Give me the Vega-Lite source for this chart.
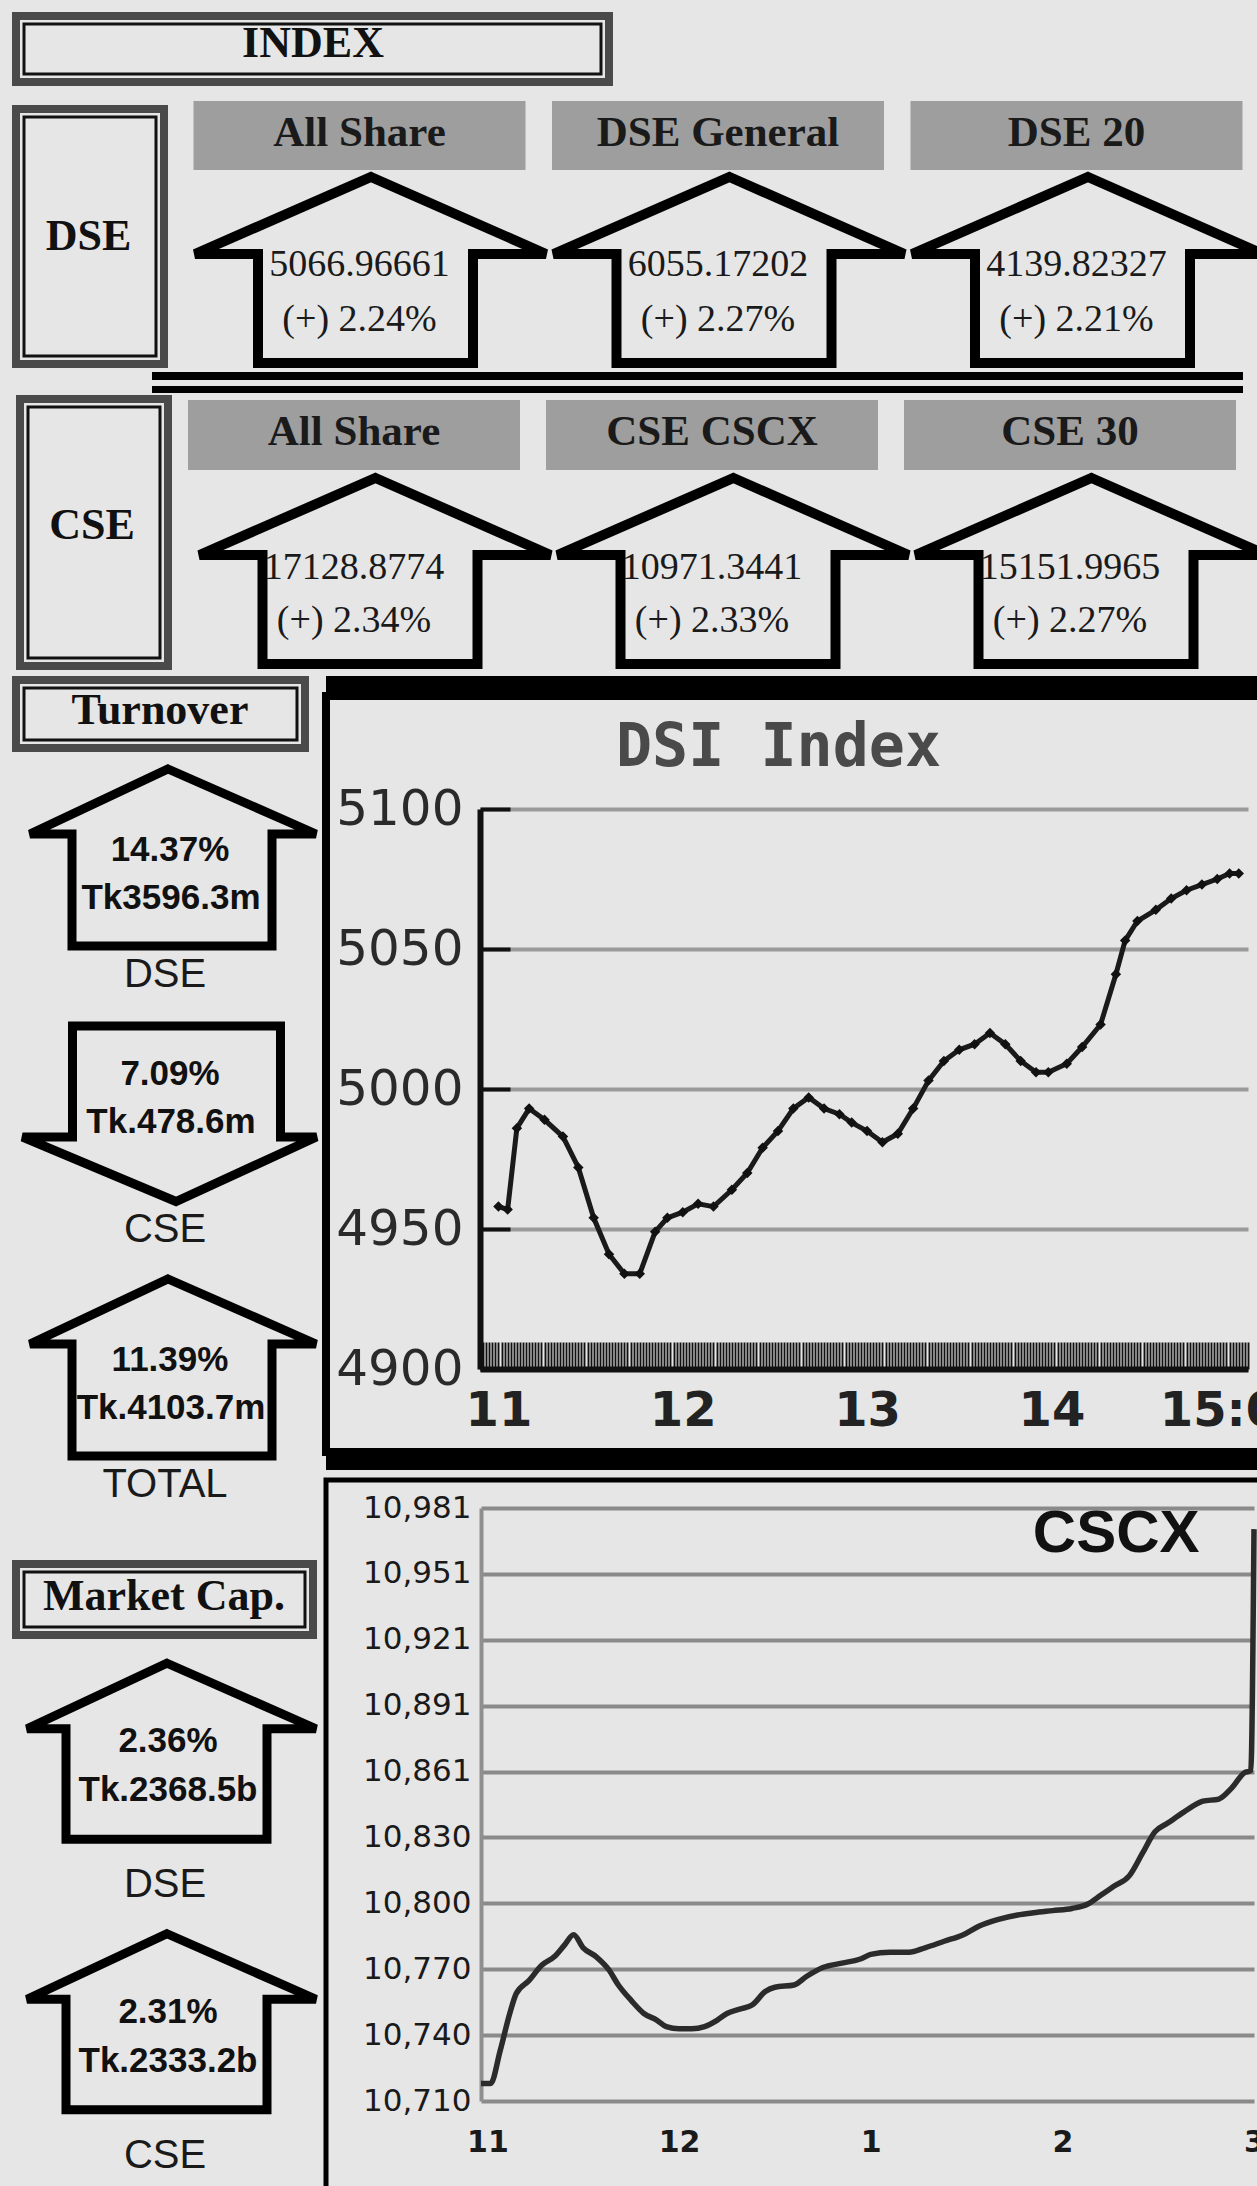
{
  "$schema": "https://vega.github.io/schema/vega-lite/v6.json",
  "background": "#e6e6e6",
  "padding": 0,
  "spacing": 0,
  "bounds": "flush",
  "config": {"view": {"stroke": null}},
  "datasets": {
    "tiles": [
      {"exchange": "DSE", "rank": 1, "name": "All Share", "value": "5066.96661", "change": "(+) 2.24%"},
      {"exchange": "DSE", "rank": 2, "name": "DSE General", "value": "6055.17202", "change": "(+) 2.27%"},
      {"exchange": "DSE", "rank": 3, "name": "DSE 20", "value": "4139.82327", "change": "(+) 2.21%"},
      {"exchange": "CSE", "rank": 1, "name": "All Share", "value": "17128.8774", "change": "(+) 2.34%"},
      {"exchange": "CSE", "rank": 2, "name": "CSE CSCX", "value": "10971.3441", "change": "(+) 2.33%"},
      {"exchange": "CSE", "rank": 3, "name": "CSE 30", "value": "15151.9965", "change": "(+) 2.27%"}
    ],
    "turnover": [
      {"market": "DSE", "pct": "14.37%", "amount": "Tk3596.3m", "dir": "up"},
      {"market": "CSE", "pct": "7.09%", "amount": "Tk.478.6m", "dir": "down"},
      {"market": "TOTAL", "pct": "11.39%", "amount": "Tk.4103.7m", "dir": "up"}
    ],
    "mcap": [
      {"market": "DSE", "pct": "2.36%", "amount": "Tk.2368.5b", "dir": "up"},
      {"market": "CSE", "pct": "2.31%", "amount": "Tk.2333.2b", "dir": "up"}
    ],
    "dsi": [
      {"time": "2014-01-01T11:00Z", "index": 4958}, {"time": "2014-01-01T11:03Z", "index": 4957},
      {"time": "2014-01-01T11:06Z", "index": 4986}, {"time": "2014-01-01T11:10Z", "index": 4993},
      {"time": "2014-01-01T11:15Z", "index": 4989}, {"time": "2014-01-01T11:21Z", "index": 4983},
      {"time": "2014-01-01T11:26Z", "index": 4972}, {"time": "2014-01-01T11:31Z", "index": 4954},
      {"time": "2014-01-01T11:36Z", "index": 4941}, {"time": "2014-01-01T11:41Z", "index": 4934},
      {"time": "2014-01-01T11:46Z", "index": 4934}, {"time": "2014-01-01T11:51Z", "index": 4949},
      {"time": "2014-01-01T11:55Z", "index": 4954}, {"time": "2014-01-01T12:00Z", "index": 4956},
      {"time": "2014-01-01T12:05Z", "index": 4959}, {"time": "2014-01-01T12:10Z", "index": 4958},
      {"time": "2014-01-01T12:16Z", "index": 4964}, {"time": "2014-01-01T12:21Z", "index": 4970},
      {"time": "2014-01-01T12:26Z", "index": 4979}, {"time": "2014-01-01T12:31Z", "index": 4985},
      {"time": "2014-01-01T12:36Z", "index": 4993}, {"time": "2014-01-01T12:41Z", "index": 4997},
      {"time": "2014-01-01T12:46Z", "index": 4993}, {"time": "2014-01-01T12:51Z", "index": 4991},
      {"time": "2014-01-01T12:55Z", "index": 4988}, {"time": "2014-01-01T13:00Z", "index": 4985},
      {"time": "2014-01-01T13:05Z", "index": 4981}, {"time": "2014-01-01T13:10Z", "index": 4984},
      {"time": "2014-01-01T13:15Z", "index": 4993}, {"time": "2014-01-01T13:20Z", "index": 5003},
      {"time": "2014-01-01T13:25Z", "index": 5010}, {"time": "2014-01-01T13:30Z", "index": 5014},
      {"time": "2014-01-01T13:35Z", "index": 5016}, {"time": "2014-01-01T13:40Z", "index": 5020},
      {"time": "2014-01-01T13:45Z", "index": 5016}, {"time": "2014-01-01T13:50Z", "index": 5010},
      {"time": "2014-01-01T13:55Z", "index": 5006}, {"time": "2014-01-01T13:59Z", "index": 5006},
      {"time": "2014-01-01T14:05Z", "index": 5009}, {"time": "2014-01-01T14:10Z", "index": 5015},
      {"time": "2014-01-01T14:16Z", "index": 5023}, {"time": "2014-01-01T14:21Z", "index": 5041},
      {"time": "2014-01-01T14:24Z", "index": 5053}, {"time": "2014-01-01T14:28Z", "index": 5060},
      {"time": "2014-01-01T14:34Z", "index": 5064}, {"time": "2014-01-01T14:39Z", "index": 5068},
      {"time": "2014-01-01T14:44Z", "index": 5071}, {"time": "2014-01-01T14:49Z", "index": 5073},
      {"time": "2014-01-01T14:54Z", "index": 5075}, {"time": "2014-01-01T14:58Z", "index": 5077},
      {"time": "2014-01-01T15:01Z", "index": 5077}
    ],
    "cscx": [
      {"time": "2014-01-01T10:58Z", "index": 10718}, {"time": "2014-01-01T11:01Z", "index": 10718},
      {"time": "2014-01-01T11:04Z", "index": 10733}, {"time": "2014-01-01T11:07Z", "index": 10750},
      {"time": "2014-01-01T11:09Z", "index": 10759}, {"time": "2014-01-01T11:13Z", "index": 10765},
      {"time": "2014-01-01T11:17Z", "index": 10772}, {"time": "2014-01-01T11:21Z", "index": 10776},
      {"time": "2014-01-01T11:24Z", "index": 10781}, {"time": "2014-01-01T11:27Z", "index": 10786},
      {"time": "2014-01-01T11:30Z", "index": 10780}, {"time": "2014-01-01T11:34Z", "index": 10776},
      {"time": "2014-01-01T11:38Z", "index": 10770}, {"time": "2014-01-01T11:41Z", "index": 10763},
      {"time": "2014-01-01T11:45Z", "index": 10756}, {"time": "2014-01-01T11:49Z", "index": 10750},
      {"time": "2014-01-01T11:53Z", "index": 10747}, {"time": "2014-01-01T11:56Z", "index": 10744},
      {"time": "2014-01-01T12:00Z", "index": 10743}, {"time": "2014-01-01T12:04Z", "index": 10743},
      {"time": "2014-01-01T12:08Z", "index": 10744}, {"time": "2014-01-01T12:12Z", "index": 10747},
      {"time": "2014-01-01T12:15Z", "index": 10750}, {"time": "2014-01-01T12:19Z", "index": 10752},
      {"time": "2014-01-01T12:23Z", "index": 10754}, {"time": "2014-01-01T12:27Z", "index": 10760},
      {"time": "2014-01-01T12:30Z", "index": 10762}, {"time": "2014-01-01T12:36Z", "index": 10763},
      {"time": "2014-01-01T12:40Z", "index": 10767}, {"time": "2014-01-01T12:45Z", "index": 10771},
      {"time": "2014-01-01T12:51Z", "index": 10773}, {"time": "2014-01-01T12:57Z", "index": 10775},
      {"time": "2014-01-01T13:00Z", "index": 10777}, {"time": "2014-01-01T13:06Z", "index": 10778},
      {"time": "2014-01-01T13:12Z", "index": 10778}, {"time": "2014-01-01T13:17Z", "index": 10780},
      {"time": "2014-01-01T13:23Z", "index": 10783}, {"time": "2014-01-01T13:29Z", "index": 10786},
      {"time": "2014-01-01T13:34Z", "index": 10790}, {"time": "2014-01-01T13:40Z", "index": 10793},
      {"time": "2014-01-01T13:46Z", "index": 10795}, {"time": "2014-01-01T13:51Z", "index": 10796},
      {"time": "2014-01-01T13:57Z", "index": 10797}, {"time": "2014-01-01T14:03Z", "index": 10798},
      {"time": "2014-01-01T14:08Z", "index": 10800}, {"time": "2014-01-01T14:12Z", "index": 10804},
      {"time": "2014-01-01T14:16Z", "index": 10808}, {"time": "2014-01-01T14:21Z", "index": 10813},
      {"time": "2014-01-01T14:25Z", "index": 10823}, {"time": "2014-01-01T14:29Z", "index": 10833},
      {"time": "2014-01-01T14:33Z", "index": 10837}, {"time": "2014-01-01T14:38Z", "index": 10842},
      {"time": "2014-01-01T14:44Z", "index": 10847}, {"time": "2014-01-01T14:49Z", "index": 10848},
      {"time": "2014-01-01T14:53Z", "index": 10853}, {"time": "2014-01-01T14:57Z", "index": 10860},
      {"time": "2014-01-01T14:59Z", "index": 10861}, {"time": "2014-01-01T15:00Z", "index": 10971.34}
    ]
  },
  "vconcat": [
    {
      "width": 610, "height": 86,
      "data": {"values": [{"section": "INDEX"}]},
      "layer": [
        {"mark": {"type": "point", "shape": "M-0.594,-0.074H0.592V0.058H-0.594Z", "size": 1000000, "filled": false, "color": "#4a4a4a", "strokeWidth": 8, "opacity": 1}},
        {"mark": {"type": "point", "shape": "M-0.578,-0.058H0.576V0.042H-0.578Z", "size": 1000000, "filled": false, "color": "#111111", "strokeWidth": 3, "opacity": 1}},
        {"mark": {"type": "text", "font": "Liberation Serif", "fontWeight": "bold", "fontSize": 44, "color": "#111111", "dy": -9}, "encoding": {"text": {"field": "section"}}}
      ]
    },
    {
      "width": 1257, "height": 276,
      "layer": [
        {
          "data": {"values": [{"exchange": "DSE"}]},
          "layer": [
            {"mark": {"type": "point", "shape": "M-1.241,-0.25H-0.945V0.26H-1.241Z", "size": 1000000, "filled": false, "color": "#4a4a4a", "strokeWidth": 8, "opacity": 1}},
            {"mark": {"type": "point", "shape": "M-1.225,-0.234H-0.961V0.244H-1.225Z", "size": 1000000, "filled": false, "color": "#111111", "strokeWidth": 3, "opacity": 1}},
            {"mark": {"type": "text", "font": "Liberation Serif", "fontWeight": "bold", "fontSize": 44, "color": "#111111", "dx": -548, "dy": 3}, "encoding": {"text": {"field": "exchange"}}}
          ]
        },
        {
          "data": {"name": "tiles"},
          "transform": [{"filter": "datum.exchange === 'DSE'"}],
          "encoding": {"x": {"field": "rank", "type": "ordinal", "scale": {"type": "point", "range": [351.5, 1068.5], "padding": 0}, "axis": null}},
          "layer": [
            {"mark": {"type": "point", "shape": "M-0.332,-0.266H0.332V-0.128H-0.332Z", "size": 1000000, "filled": true, "color": "#9e9e9e", "opacity": 1, "strokeWidth": 0}},
            {"mark": {"type": "text", "font": "Liberation Serif", "fontWeight": "bold", "fontSize": 43, "color": "#1a1a1a", "dy": -101}, "encoding": {"text": {"field": "name"}}},
            {"mark": {"type": "text", "font": "Liberation Serif", "fontSize": 38, "color": "#1a1a1a", "dy": 31}, "encoding": {"text": {"field": "value"}}},
            {"mark": {"type": "text", "font": "Liberation Serif", "fontSize": 38, "color": "#1a1a1a", "dy": 86}, "encoding": {"text": {"field": "change"}}},
            {"mark": {"type": "point", "shape": "M0.023,-0.114L0.373,0.04H0.227V0.258H-0.203V0.04H-0.329Z", "size": 1000000, "filled": false, "color": "#000000", "strokeWidth": 10, "strokeJoin": "miter", "opacity": 1}}
          ]
        }
      ]
    },
    {
      "width": 1257, "height": 24,
      "data": {"values": [{"part": "separator"}]},
      "mark": {"type": "point", "shape": "M-0.969,-0.024H1.213V-0.008H-0.969Z M-0.969,0.004H1.213V0.018H-0.969Z", "size": 1000000, "filled": true, "color": "#000000", "opacity": 1, "strokeWidth": 0}
    },
    {
      "width": 1257, "height": 280,
      "layer": [
        {
          "data": {"values": [{"exchange": "CSE"}]},
          "layer": [
            {"mark": {"type": "point", "shape": "M-1.233,-0.274H-0.937V0.26H-1.233Z", "size": 1000000, "filled": false, "color": "#4a4a4a", "strokeWidth": 8, "opacity": 1}},
            {"mark": {"type": "point", "shape": "M-1.217,-0.258H-0.953V0.244H-1.217Z", "size": 1000000, "filled": false, "color": "#111111", "strokeWidth": 3, "opacity": 1}},
            {"mark": {"type": "text", "font": "Liberation Serif", "fontWeight": "bold", "fontSize": 44, "color": "#111111", "dx": -544.5, "dy": -10}, "encoding": {"text": {"field": "exchange"}}}
          ]
        },
        {
          "data": {"name": "tiles"},
          "transform": [{"filter": "datum.exchange === 'CSE'"}],
          "encoding": {"x": {"field": "rank", "type": "ordinal", "scale": {"type": "point", "range": [346, 1062], "padding": 0}, "axis": null}},
          "layer": [
            {"mark": {"type": "point", "shape": "M-0.332,-0.272H0.332V-0.132H-0.332Z", "size": 1000000, "filled": true, "color": "#9e9e9e", "opacity": 1, "strokeWidth": 0}},
            {"mark": {"type": "text", "font": "Liberation Serif", "fontWeight": "bold", "fontSize": 43, "color": "#1a1a1a", "dy": -104}, "encoding": {"text": {"field": "name"}}},
            {"mark": {"type": "text", "font": "Liberation Serif", "fontSize": 38, "color": "#1a1a1a", "dy": 32}, "encoding": {"text": {"field": "value"}}},
            {"mark": {"type": "text", "font": "Liberation Serif", "fontSize": 38, "color": "#1a1a1a", "dy": 85}, "encoding": {"text": {"field": "change"}}},
            {"mark": {"type": "point", "shape": "M0.043,-0.116L0.393,0.038H0.247V0.256H-0.183V0.038H-0.309Z", "size": 1000000, "filled": false, "color": "#000000", "strokeWidth": 10, "strokeJoin": "miter", "opacity": 1}}
          ]
        }
      ]
    },
    {
      "spacing": 0, "bounds": "flush",
      "hconcat": [
        {
          "width": 318, "height": 1520,
          "resolve": {"scale": {"y": "independent", "shape": "independent"}},
          "layer": [
            {
              "data": {"values": [{"section": "Turnover"}]},
              "layer": [
                {"mark": {"type": "point", "shape": "M-0.302,-1.512H0.276V-1.376H-0.302Z", "size": 1000000, "filled": false, "color": "#4a4a4a", "strokeWidth": 8, "opacity": 1}},
                {"mark": {"type": "point", "shape": "M-0.286,-1.496H0.26V-1.392H-0.286Z", "size": 1000000, "filled": false, "color": "#111111", "strokeWidth": 3, "opacity": 1}},
                {"mark": {"type": "text", "font": "Liberation Serif", "fontWeight": "bold", "fontSize": 44, "color": "#111111", "dx": -7, "dy": -725}, "encoding": {"text": {"field": "section"}}}
              ]
            },
            {
              "data": {"values": [{"section": "Market Cap."}]},
              "layer": [
                {"mark": {"type": "point", "shape": "M-0.302,0.256H0.292V0.398H-0.302Z", "size": 1000000, "filled": false, "color": "#4a4a4a", "strokeWidth": 8, "opacity": 1}},
                {"mark": {"type": "point", "shape": "M-0.286,0.272H0.276V0.382H-0.286Z", "size": 1000000, "filled": false, "color": "#111111", "strokeWidth": 3, "opacity": 1}},
                {"mark": {"type": "text", "font": "Liberation Serif", "fontWeight": "bold", "fontSize": 44, "color": "#111111", "dx": -3, "dy": 161}, "encoding": {"text": {"field": "section"}}}
              ]
            },
            {
              "data": {"name": "turnover"},
              "encoding": {"y": {"field": "market", "type": "nominal", "scale": {"type": "point", "padding": 0, "domain": ["DSE", "CSE", "TOTAL"], "range": [212.5, 722.5]}, "axis": null}},
              "layer": [
                {"transform": [{"filter": "datum.dir === 'up'"}], "mark": {"type": "text", "font": "Liberation Sans", "fontWeight": "bold", "fontSize": 35, "color": "#111111", "dx": 3, "dy": -39}, "encoding": {"text": {"field": "pct"}}},
                {"transform": [{"filter": "datum.dir === 'up'"}], "mark": {"type": "text", "font": "Liberation Sans", "fontWeight": "bold", "fontSize": 35, "color": "#111111", "dx": 4, "dy": 9}, "encoding": {"text": {"field": "amount"}}},
                {"transform": [{"filter": "datum.dir === 'down'"}], "mark": {"type": "text", "font": "Liberation Sans", "fontWeight": "bold", "fontSize": 35, "color": "#111111", "dx": 3, "dy": -70}, "encoding": {"text": {"field": "pct"}}},
                {"transform": [{"filter": "datum.dir === 'down'"}], "mark": {"type": "text", "font": "Liberation Sans", "fontWeight": "bold", "fontSize": 35, "color": "#111111", "dx": 4, "dy": -22}, "encoding": {"text": {"field": "amount"}}},
                {"mark": {"type": "text", "font": "Liberation Sans", "fontSize": 40, "color": "#1a1a1a", "dx": -2, "dy": 86}, "encoding": {"text": {"field": "market"}}},
                {"mark": {"type": "point", "size": 1000000, "filled": false, "color": "#000000", "strokeWidth": 9, "strokeJoin": "miter", "opacity": 1},
                 "encoding": {"shape": {"field": "dir", "type": "nominal", "scale": {"domain": ["up", "down"], "range": ["M0.002,-0.239L0.298,-0.109H0.21V0.115H-0.19V-0.109H-0.274Z", "M-0.189,-0.235H0.227V-0.013H0.299L0.018,0.116L-0.289,-0.013H-0.189Z"]}, "legend": null}}}
              ]
            },
            {
              "data": {"name": "mcap"},
              "encoding": {"y": {"field": "market", "type": "nominal", "scale": {"type": "point", "padding": 0, "domain": ["DSE", "CSE"], "range": [1114.25, 1384.75]}, "axis": null}},
              "layer": [
                {"mark": {"type": "text", "font": "Liberation Sans", "fontWeight": "bold", "fontSize": 35, "color": "#111111", "dx": 1, "dy": -49}, "encoding": {"text": {"field": "pct"}}},
                {"mark": {"type": "text", "font": "Liberation Sans", "fontWeight": "bold", "fontSize": 35, "color": "#111111", "dx": 1, "dy": 0}, "encoding": {"text": {"field": "amount"}}},
                {"mark": {"type": "text", "font": "Liberation Sans", "fontSize": 40, "color": "#1a1a1a", "dx": -2, "dy": 95}, "encoding": {"text": {"field": "market"}}},
                {"mark": {"type": "point", "size": 1000000, "filled": false, "color": "#000000", "strokeWidth": 9, "strokeJoin": "miter", "opacity": 1},
                 "encoding": {"shape": {"field": "dir", "type": "nominal", "scale": {"domain": ["up", "down"], "range": ["M0,-0.254L0.298,-0.123H0.2V0.098H-0.202V-0.123H-0.28Z", "M-0.189,-0.235H0.227V-0.013H0.299L0.018,0.116L-0.289,-0.013H-0.189Z"]}, "legend": null}}}
              ]
            }
          ]
        },
        {
          "spacing": 0, "bounds": "flush",
          "vconcat": [
            {"width": 943, "height": 20, "view": {"fill": "#000000", "stroke": null}, "data": {"values": [{"part": "bar"}]}, "mark": {"type": "text"}, "encoding": {"text": {"value": ""}}},
            {
              "width": 943, "height": 756,
              "view": {"stroke": "#000000", "strokeWidth": 8},
              "layer": [
                {
                  "data": {"name": "dsi"},
                  "mark": {"type": "line", "color": "#1a1a1a", "strokeWidth": 5, "point": {"filled": true, "shape": "diamond", "size": 110, "color": "#111111", "opacity": 1}},
                  "encoding": {
                    "x": {
                      "field": "time", "type": "temporal",
                      "scale": {"type": "utc", "domain": [1388573640000, 1388588640000], "range": [154, 922], "nice": false},
                      "axis": {
                        "orient": "bottom", "offset": -83, "title": null,
                        "tickCount": 125,
                        "labelExpr": "utcminutes(datum.value) === 0 ? (utchours(datum.value) === 15 ? '15:00' : '' + utchours(datum.value)) : ''",
                        "labelFont": "DejaVu Sans", "labelFontWeight": "bold", "labelFontSize": 48, "labelColor": "#222222",
                        "labelPadding": 69, "labelBaseline": "middle", "labelOverlap": false, "labelFlush": false, "labelBound": false,
                        "tickSize": -27, "tickWidth": 1.9, "tickColor": "#111111",
                        "domainColor": "#111111", "domainWidth": 6, "grid": false
                      }
                    },
                    "y": {
                      "field": "index", "type": "quantitative",
                      "scale": {"domain": [4900, 5100], "range": [673, 113], "nice": false, "zero": false},
                      "axis": {
                        "orient": "left", "offset": -154, "title": null,
                        "values": [4900, 4950, 5000, 5050, 5100],
                        "format": "d",
                        "labelFont": "DejaVu Sans", "labelFontSize": 50, "labelColor": "#2a2a2a", "labelPadding": 47, "labelBaseline": "middle", "labelOverlap": false, "labelBound": false,
                        "tickSize": -30, "tickWidth": 4, "tickColor": "#111111",
                        "domainColor": "#111111", "domainWidth": 6,
                        "grid": true, "gridColor": "#9a9a9a", "gridWidth": 4
                      }
                    }
                  }
                },
                {
                  "data": {"values": [{"title": "DSI Index"}]},
                  "mark": {"type": "text", "font": "DejaVu Sans Mono", "fontWeight": "bold", "fontSize": 60, "color": "#4a4a4a", "baseline": "alphabetic", "dx": -19, "dy": -308},
                  "encoding": {"text": {"field": "title"}}
                }
              ]
            },
            {"width": 943, "height": 18, "view": {"fill": "#000000", "stroke": null}, "data": {"values": [{"part": "bar"}]}, "mark": {"type": "text"}, "encoding": {"text": {"value": ""}}},
            {"width": 943, "height": 10, "data": {"values": [{"part": "gap"}]}, "mark": {"type": "text"}, "encoding": {"text": {"value": ""}}},
            {
              "width": 939, "height": 711,
              "view": {"stroke": "#000000", "strokeWidth": 5},
              "layer": [
                {
                  "data": {"name": "cscx"},
                  "mark": {"type": "line", "color": "#2b2b2b", "strokeWidth": 5.5, "interpolate": "monotone"},
                  "encoding": {
                    "x": {
                      "field": "time", "type": "temporal",
                      "scale": {"type": "utc", "domain": [1388573880000, 1388588400000], "range": [155, 928], "nice": false},
                      "axis": {
                        "orient": "bottom", "offset": -90, "title": null,
                        "tickCount": 4,
                        "labelExpr": "'' + (utchours(datum.value) > 12 ? utchours(datum.value) - 12 : utchours(datum.value))",
                        "ticks": false, "domain": false, "grid": false,
                        "labelFont": "DejaVu Sans", "labelFontWeight": "bold", "labelFontSize": 30, "labelColor": "#1a1a1a",
                        "labelPadding": 41, "labelBaseline": "middle", "labelFlush": false, "labelOverlap": false, "labelBound": false
                      }
                    },
                    "y": {
                      "field": "index", "type": "quantitative",
                      "scale": {"domain": [10710, 10981], "range": [621, 28], "nice": false, "zero": false},
                      "axis": {
                        "orient": "left", "offset": -155, "title": null,
                        "values": [10710, 10740.111, 10770.222, 10800.333, 10830.444, 10860.556, 10890.667, 10920.778, 10950.889, 10981],
                        "format": ",.0f",
                        "labelFont": "DejaVu Sans", "labelFontSize": 31, "labelColor": "#1a1a1a", "labelPadding": 10, "labelBaseline": "middle", "labelOverlap": false, "labelBound": false,
                        "ticks": false,
                        "domainColor": "#8f8f8f", "domainWidth": 4,
                        "grid": true, "gridColor": "#8a8a8a", "gridWidth": 4
                      }
                    }
                  }
                },
                {
                  "data": {"values": [{"title": "CSCX"}]},
                  "mark": {"type": "text", "font": "Liberation Sans", "fontWeight": "bold", "fontSize": 60, "color": "#111111", "align": "right", "baseline": "alphabetic", "dx": 404, "dy": -284},
                  "encoding": {"text": {"field": "title"}}
                }
              ]
            },
            {"width": 939, "height": 5, "data": {"values": [{"part": "foot"}]}, "mark": {"type": "text"}, "encoding": {"text": {"value": ""}}}
          ]
        }
      ]
    }
  ]
}
